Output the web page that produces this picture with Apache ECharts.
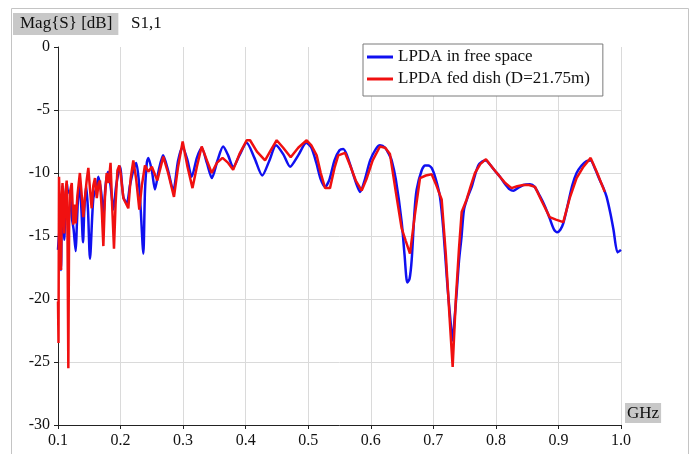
<!DOCTYPE html>
<html>
<head>
<meta charset="utf-8">
<script src="https://cdn.jsdelivr.net/npm/echarts@6/dist/echarts.min.js"></script>
<style>
  html, body { margin: 0; padding: 0; background: #fff; }
  #chart { width: 697px; height: 454px; }
</style>
</head>
<body>
<div id="chart"></div>
<script>
// S11 magnitude of the log-periodic dipole array, free space vs. dish-fed
var seriesNames = ['LPDA in free space', 'LPDA fed dish (D=21.75m)'];
var xTicks = ['0.1', '0.2', '0.3', '0.4', '0.5', '0.6', '0.7', '0.8', '0.9', '1.0'];
var yTicks = ['-30', '-25', '-20', '-15', '-10', '-5', '0'];

// frequency in GHz / magnitude in dB, free-space antenna
var freqFree = [
  0.1000, 0.1030, 0.1048, 0.1060, 0.1070, 0.1085, 0.1100, 0.1120, 0.1140, 0.1160,
  0.1190, 0.1220, 0.1250, 0.1283, 0.1300, 0.1320, 0.1340, 0.1370, 0.1400, 0.1420,
  0.1450, 0.1480, 0.1511, 0.1565, 0.1618, 0.1645, 0.1690, 0.1725, 0.1760, 0.1800,
  0.1840, 0.1885, 0.1930, 0.1990, 0.2045, 0.2100, 0.2150, 0.2204, 0.2250, 0.2290,
  0.2320, 0.2364, 0.2390, 0.2420, 0.2444, 0.2500, 0.2550, 0.2610, 0.2680, 0.2760,
  0.2843, 0.2920, 0.2993, 0.3070, 0.3137, 0.3220, 0.3297, 0.3380, 0.3460, 0.3550,
  0.3640, 0.3720, 0.3800, 0.3900, 0.4016, 0.4140, 0.4265, 0.4380, 0.4485, 0.4600,
  0.4710, 0.4840, 0.4970, 0.5050, 0.5130, 0.5200, 0.5270, 0.5340, 0.5420, 0.5500,
  0.5560, 0.5620, 0.5700, 0.5780, 0.5828, 0.5900, 0.5990, 0.6080, 0.6147, 0.6230,
  0.6300, 0.6334, 0.6400, 0.6494, 0.6540, 0.6584, 0.6620, 0.6654, 0.6700, 0.6734,
  0.6813, 0.6870, 0.6920, 0.6973, 0.7040, 0.7106, 0.7160, 0.7223, 0.7270, 0.7309,
  0.7340, 0.7373, 0.7410, 0.7450, 0.7490, 0.7550, 0.7613, 0.7670, 0.7720, 0.7780,
  0.7840, 0.7900, 0.7980, 0.8065, 0.8150, 0.8220, 0.8280, 0.8350, 0.8440, 0.8545,
  0.8620, 0.8700, 0.8780, 0.8860, 0.8930, 0.8980, 0.9030, 0.9077, 0.9150, 0.9220,
  0.9290, 0.9370, 0.9450, 0.9515, 0.9580, 0.9664, 0.9720, 0.9770, 0.9830, 0.9880,
  0.9945, 1.0000
];
var magFree = [
  -16.1, -14.0, -17.7, -13.0, -11.0, -14.0, -15.3, -12.0, -10.8, -11.5,
  -11.6, -13.5, -14.5, -16.2, -14.3, -12.0, -11.0, -12.5, -15.5, -13.0,
  -11.0, -13.0, -16.8, -12.0, -11.1, -10.3, -11.5, -13.3, -11.0, -9.9,
  -11.0, -12.9, -11.0, -9.5, -11.9, -12.4, -11.0, -9.8, -9.2, -10.5,
  -12.7, -16.4, -11.5, -9.2, -8.8, -9.8, -11.3, -9.8, -8.6, -9.8,
  -11.4, -9.0, -7.95, -9.0, -10.3, -8.8, -8.0, -9.2, -10.4, -9.0,
  -7.9, -8.6, -9.55, -8.6, -7.6, -8.8, -10.2, -9.0, -7.8, -8.5,
  -9.5, -8.6, -7.6, -8.0, -9.2, -10.5, -11.1, -10.5, -9.0, -8.2,
  -8.1, -8.6, -9.8, -11.0, -11.5, -10.6, -9.0, -8.1, -7.8, -8.0,
  -8.6, -9.0, -10.5, -13.9, -16.5, -18.7, -18.4, -16.9, -13.0, -11.3,
  -9.8, -9.4, -9.4, -9.6, -10.5, -11.9, -14.5, -18.8, -21.5, -23.3,
  -21.5, -19.5, -17.0, -15.1, -12.9, -11.9, -11.1, -10.1, -9.4, -9.1,
  -9.0, -9.3, -9.8, -10.3, -10.9, -11.3, -11.4, -11.2, -10.95, -10.9,
  -11.1, -11.8, -12.6, -13.6, -14.5, -14.7, -14.5, -14.0, -12.5, -11.0,
  -10.0, -9.4, -9.05, -9.0, -9.6, -10.6, -11.2, -11.9, -13.2, -14.5,
  -16.3, -16.1
];

// frequency in GHz / magnitude in dB, antenna feeding the dish
var freqDish = [
  0.1000, 0.1008, 0.1016, 0.1030, 0.1048, 0.1062, 0.1072, 0.1085, 0.1100, 0.1120,
  0.1139, 0.1152, 0.1165, 0.1178, 0.1192, 0.1220, 0.1245, 0.1265, 0.1283, 0.1310,
  0.1350, 0.1375, 0.1405, 0.1430, 0.1460, 0.1485, 0.1510, 0.1538, 0.1565, 0.1591,
  0.1620, 0.1650, 0.1671, 0.1700, 0.1725, 0.1750, 0.1778, 0.1810, 0.1840, 0.1865,
  0.1895, 0.1920, 0.1950, 0.1980, 0.2000, 0.2045, 0.2124, 0.2160, 0.2204, 0.2250,
  0.2300, 0.2340, 0.2390, 0.2444, 0.2500, 0.2588, 0.2683, 0.2760, 0.2854, 0.2920,
  0.2993, 0.3070, 0.3150, 0.3220, 0.3297, 0.3380, 0.3457, 0.3540, 0.3630, 0.3720,
  0.3800, 0.3900, 0.4016, 0.4070, 0.4180, 0.4310, 0.4400, 0.4496, 0.4600, 0.4720,
  0.4840, 0.4975, 0.5050, 0.5135, 0.5200, 0.5270, 0.5348, 0.5420, 0.5480, 0.5588,
  0.5670, 0.5760, 0.5855, 0.5930, 0.6030, 0.6147, 0.6230, 0.6307, 0.6400, 0.6494,
  0.6560, 0.6627, 0.6700, 0.6787, 0.6880, 0.6973, 0.7050, 0.7133, 0.7200, 0.7260,
  0.7309, 0.7360, 0.7410, 0.7453, 0.7533, 0.7600, 0.7666, 0.7750, 0.7841, 0.7950,
  0.8065, 0.8150, 0.8250, 0.8340, 0.8438, 0.8530, 0.8625, 0.8740, 0.8860, 0.8960,
  0.9077, 0.9180, 0.9290, 0.9400, 0.9515, 0.9620, 0.9740
];
var magDish = [
  -20.2, -23.5, -10.3, -12.5, -17.7, -12.0, -10.8, -12.5, -14.8, -11.5,
  -10.6, -15.0, -25.5, -14.0, -11.5, -10.8, -14.1, -12.5, -14.0, -11.8,
  -10.0, -11.5, -13.5, -12.0, -10.5, -9.6, -11.2, -12.8, -11.0, -10.4,
  -12.0, -10.8, -10.6, -13.0, -15.8, -12.0, -10.0, -10.8, -9.2, -12.5,
  -16.0, -12.5, -9.8, -9.4, -10.0, -12.0, -12.8, -10.5, -9.0, -10.5,
  -12.9, -11.0, -9.4, -9.9, -9.5, -10.6, -8.7, -10.0, -11.9, -9.5,
  -7.5, -9.5, -11.2, -9.5, -7.9, -9.0, -10.0, -9.2, -8.8, -9.2,
  -9.75, -8.5, -7.4, -7.4, -8.3, -9.0, -8.2, -7.4, -8.0, -8.75,
  -8.0, -7.4, -7.8, -8.6, -10.0, -11.2, -11.2, -9.6, -8.6, -8.4,
  -9.4, -10.6, -11.4, -10.5, -9.0, -7.9, -8.0, -8.5, -11.5, -14.4,
  -15.4, -16.4, -13.5, -10.4, -10.2, -10.1, -11.0, -12.1, -16.5, -21.5,
  -25.4, -20.0, -16.0, -13.1, -12.1, -11.0, -10.0, -9.3, -8.9, -9.6,
  -10.3, -10.8, -11.2, -11.05, -10.95, -10.95, -11.1, -12.3, -13.5, -13.7,
  -13.9, -12.0, -10.4, -9.5, -8.8, -10.0, -11.5
];

function pairs(xs, ys) {
  return xs.map(function (x, i) { return [x, ys[i]]; });
}

var serif = "'Liberation Serif', 'Times New Roman', 'DejaVu Serif', serif";
var chart = echarts.init(document.getElementById('chart'), null, { renderer: 'canvas' });

chart.setOption({
  animation: false,
  backgroundColor: '#ffffff',
  graphic: [
    {
      type: 'polyline',
      silent: true,
      shape: { points: [[11.5, 470], [11.5, 8.5], [688.5, 8.5], [688.5, 470]] },
      style: { stroke: '#c4c4c4', lineWidth: 1, fill: null }
    },
    {
      type: 'text',
      left: 625, top: 403,
      style: {
        text: 'GHz', font: '17px ' + serif, fill: '#111',
        backgroundColor: '#c8c8c8', padding: [2, 2, 1, 2]
      }
    }
  ],
  title: [
    {
      text: 'Mag{S} [dB]',
      left: 13, top: 13,
      padding: [2, 6, 2, 7],
      backgroundColor: '#c8c8c8',
      textStyle: { fontFamily: serif, fontSize: 17, fontWeight: 'normal', color: '#111', lineHeight: 18 }
    },
    {
      text: 'S1,1',
      left: 125, top: 13,
      padding: [2, 6, 2, 6],
      textStyle: { fontFamily: serif, fontSize: 17, fontWeight: 'normal', color: '#111', lineHeight: 18 }
    }
  ],
  legend: {
    orient: 'vertical',
    left: 363, top: 44,
    padding: [3, 13, 7, 4],
    itemGap: 2,
    itemWidth: 26,
    itemHeight: 3,
    icon: 'rect',
    backgroundColor: '#ffffff',
    borderColor: '#7a7a7a',
    borderWidth: 1,
    textStyle: { fontFamily: serif, fontSize: 17, color: '#111', lineHeight: 20, padding: [0, 0, 0, 0] },
    data: seriesNames
  },
  grid: { left: 58, right: 76, top: 47, bottom: 29, containLabel: false },
  xAxis: {
    type: 'value',
    min: 0.1, max: 1.0, interval: 0.1,
    axisLine: { show: true, onZero: false, lineStyle: { color: '#222', width: 1 } },
    axisTick: { show: true, inside: false, length: 4, lineStyle: { color: '#222' } },
    axisLabel: {
      margin: 8, fontFamily: serif, fontSize: 16, color: '#111',
      formatter: function (v) {
        var s = v.toFixed(1);
        return xTicks.indexOf(s) >= 0 ? s : '';
      }
    },
    splitLine: { show: true, lineStyle: { color: '#dadada', width: 1 } }
  },
  yAxis: {
    type: 'value',
    min: -30, max: 0, interval: 5,
    axisLine: { show: true, onZero: false, lineStyle: { color: '#222', width: 1 } },
    axisTick: { show: true, inside: false, length: 4, lineStyle: { color: '#222' } },
    axisLabel: {
      margin: 8, fontFamily: serif, fontSize: 16, color: '#111',
      formatter: function (v) {
        var s = String(Math.round(v));
        return yTicks.indexOf(s) >= 0 ? s : '';
      }
    },
    splitLine: {
      show: true,
      lineStyle: {
        color: ['#dadada', '#dadada', '#dadada', '#dadada', '#dadada', '#dadada', 'rgba(0,0,0,0)'],
        width: 1
      }
    }
  },
  series: [
    {
      name: seriesNames[0],
      type: 'line',
      data: pairs(freqFree, magFree),
      showSymbol: false,
      smooth: 0.25,
      color: '#1010f0',
      lineStyle: { color: '#1010f0', width: 2.5 },
      z: 2
    },
    {
      name: seriesNames[1],
      type: 'line',
      data: pairs(freqDish, magDish),
      showSymbol: false,
      smooth: false,
      color: '#f01010',
      lineStyle: { color: '#f01010', width: 2.5 },
      z: 3
    }
  ]
});
</script>
</body>
</html>
